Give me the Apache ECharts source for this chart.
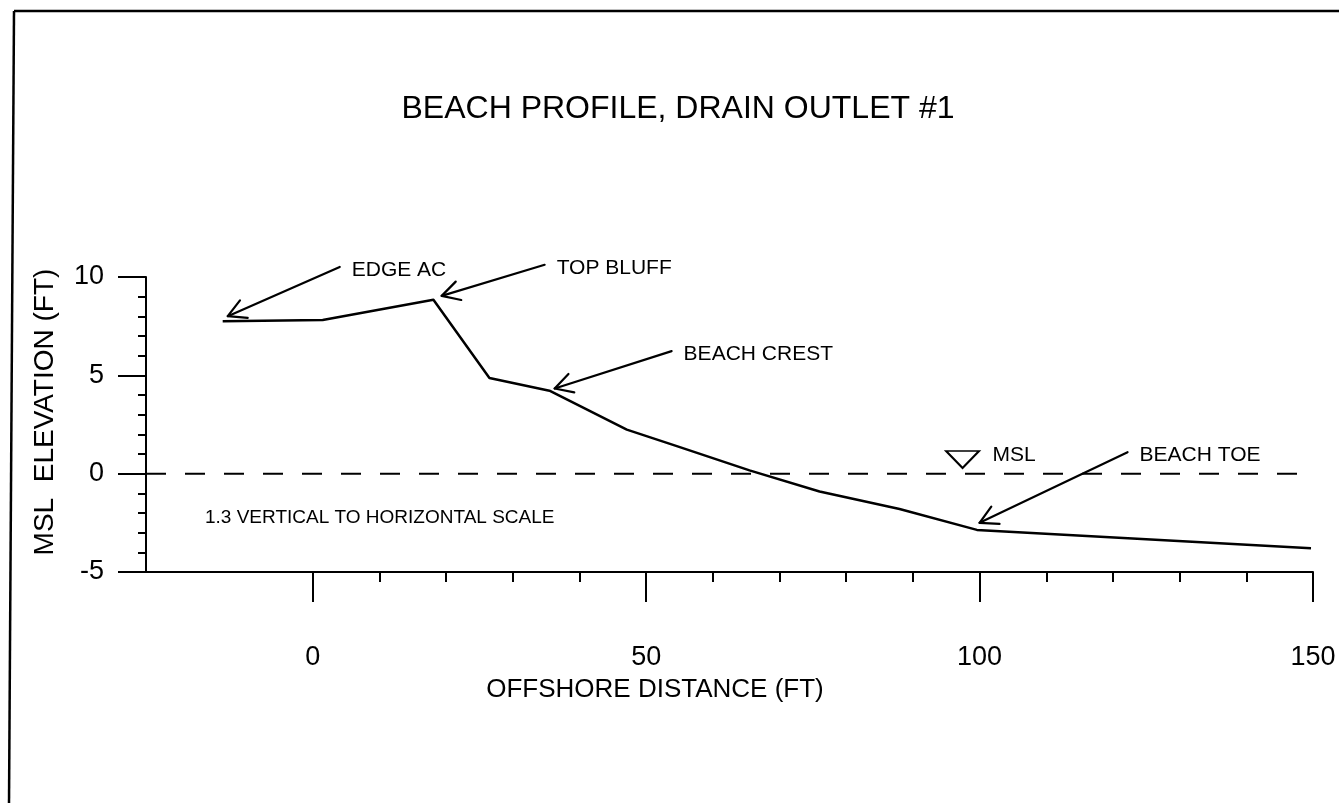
<!DOCTYPE html>
<html>
<head>
<meta charset="utf-8">
<title>Beach Profile, Drain Outlet #1</title>
<script src="https://cdn.jsdelivr.net/npm/echarts@6/dist/echarts.min.js"></script>
<style>
  html, body { margin: 0; padding: 0; background: #ffffff; }
  #chart { width: 1339px; height: 803px; }
</style>
</head>
<body>
<div id="chart"></div>
<script>
// Surveyed beach profile: offshore distance (ft) vs. elevation above MSL (ft)
const distance  = [-13.5, 1.5, 18.1, 26.5, 35.5, 47.1, 54.6, 65.5, 76.0, 88.0, 99.6, 149.7];
const elevation = [7.75, 7.81, 8.84, 4.86, 4.22, 2.24, 1.40, 0.17, -0.91, -1.80, -2.86, -3.79];

// Mean sea level reference line
const mslDistance  = [-25, 148];
const mslElevation = [0, 0];

// Axis ticks
const xMajorTicks = [0, 50, 100, 150];
const xMinorTicks = [10, 20, 30, 40, 60, 70, 80, 90, 110, 120, 130, 140];

// Callouts: label, arrow tail and arrow tip (distance, elevation)
const calloutLabels = ['EDGE AC', 'TOP BLUFF', 'BEACH CREST', 'BEACH TOE'];
const calloutTail   = [[4.05, 10.51], [34.78, 10.62], [53.82, 6.23], [122.19, 1.09]];
const calloutTip    = [[-12.74, 8.01], [19.34, 9.04], [36.28, 4.33], [100.0, -2.50]];

// Still-water-level symbol
const mslMarker = [97.45, 0.72];

const FONT = '"Liberation Sans", Arial, Helvetica, sans-serif';
const INK = '#000000';

const chart = echarts.init(document.getElementById('chart'), null, { renderer: 'canvas' });

const profileData = distance.map((d, i) => [d, elevation[i]]);
const mslData = mslDistance.map((d, i) => [d, mslElevation[i]]);
const calloutData = calloutTail.map((t, i) => [t[0], t[1], calloutTip[i][0], calloutTip[i][1]]);

// Straight leader with an open arrowhead, label placed just past the tail
function renderCallout(params, api) {
  const i = params.dataIndex;
  const tail = api.coord([api.value(0), api.value(1)]);
  const tip = api.coord([api.value(2), api.value(3)]);
  const ang = Math.atan2(tail[1] - tip[1], tail[0] - tip[0]);
  const len = 20, spread = 0.5;
  const b1 = [tip[0] + len * Math.cos(ang - spread), tip[1] + len * Math.sin(ang - spread)];
  const b2 = [tip[0] + len * Math.cos(ang + spread), tip[1] + len * Math.sin(ang + spread)];
  const stroke = { stroke: INK, lineWidth: 2.2, fill: null, lineJoin: 'round', lineCap: 'round' };
  return {
    type: 'group',
    children: [
      { type: 'polyline', shape: { points: [tail, tip] }, style: stroke },
      { type: 'polyline', shape: { points: [b1, tip, b2] }, style: stroke },
      {
        type: 'text',
        style: {
          text: calloutLabels[i],
          x: tail[0] + 12,
          y: tail[1] + 3,
          align: 'left',
          verticalAlign: 'middle',
          font: '21px ' + FONT,
          fill: INK
        }
      }
    ]
  };
}

const option = {
  backgroundColor: '#ffffff',
  animation: false,
  grid: { left: 146, right: 26, top: 277, bottom: 231, containLabel: false },
  xAxis: [
    {
      type: 'value',
      min: -25,
      max: 150,
      position: 'bottom',
      axisLine: { show: true, onZero: false, lineStyle: { color: INK, width: 2 } },
      axisTick: { show: true, customValues: xMajorTicks, length: 30, lineStyle: { color: INK, width: 2 } },
      axisLabel: { show: true, customValues: xMajorTicks, margin: 72, color: INK, fontSize: 27, fontFamily: FONT },
      splitLine: { show: false }
    },
    {
      type: 'value',
      min: -25,
      max: 150,
      position: 'bottom',
      axisLine: { show: false, onZero: false },
      axisTick: { show: true, customValues: xMinorTicks, length: 10, lineStyle: { color: INK, width: 2 } },
      axisLabel: { show: false },
      splitLine: { show: false }
    }
  ],
  yAxis: {
    type: 'value',
    min: -5,
    max: 10,
    interval: 5,
    axisLine: { show: true, onZero: false, lineStyle: { color: INK, width: 2 } },
    axisTick: { show: true, length: 28, lineStyle: { color: INK, width: 2 } },
    minorTick: { show: true, splitNumber: 5, length: 8, lineStyle: { color: INK, width: 2 } },
    axisLabel: { color: INK, fontSize: 27, fontFamily: FONT, margin: 42 },
    splitLine: { show: false },
    minorSplitLine: { show: false }
  },
  graphic: [
    { type: 'line', shape: { x1: 14, y1: 11, x2: 1339, y2: 11 }, style: { stroke: INK, lineWidth: 2.5 }, silent: true },
    { type: 'line', shape: { x1: 14, y1: 11, x2: 9, y2: 803 }, style: { stroke: INK, lineWidth: 2.5 }, silent: true },
    {
      type: 'text', x: 678, y: 109,
      style: { text: 'BEACH PROFILE, DRAIN OUTLET #1', align: 'center', verticalAlign: 'middle', font: '32px ' + FONT, fill: INK }
    },
    {
      type: 'text', x: 45, y: 412, rotation: Math.PI / 2,
      style: { text: 'MSL  ELEVATION (FT)', align: 'center', verticalAlign: 'middle', font: '28px ' + FONT, fill: INK }
    },
    {
      type: 'text', x: 655, y: 690,
      style: { text: 'OFFSHORE DISTANCE (FT)', align: 'center', verticalAlign: 'middle', font: '26px ' + FONT, fill: INK }
    },
    {
      type: 'text', x: 205, y: 518,
      style: { text: '1.3 VERTICAL TO HORIZONTAL SCALE', align: 'left', verticalAlign: 'middle', font: '19px ' + FONT, fill: INK }
    }
  ],
  series: [
    {
      name: 'MSL',
      type: 'line',
      xAxisIndex: 0,
      data: mslData,
      symbol: 'none',
      lineStyle: { color: INK, width: 2, type: [20, 19] },
      z: 2
    },
    {
      name: 'Profile',
      type: 'line',
      xAxisIndex: 0,
      data: profileData,
      symbol: 'none',
      lineStyle: { color: INK, width: 2.5, join: 'round' },
      z: 3
    },
    {
      name: 'Callouts',
      type: 'custom',
      xAxisIndex: 0,
      data: calloutData,
      renderItem: renderCallout,
      clip: false,
      z: 4
    },
    {
      name: 'Water level',
      type: 'scatter',
      xAxisIndex: 0,
      data: [mslMarker],
      symbol: 'triangle',
      symbolRotate: 180,
      symbolSize: [33, 17],
      itemStyle: { color: '#ffffff', borderColor: INK, borderWidth: 2, opacity: 1 },
      label: {
        show: true,
        position: 'right',
        distance: 12,
        offset: [0, -4],
        formatter: 'MSL',
        color: INK,
        opacity: 1,
        fontSize: 21,
        fontFamily: FONT
      },
      z: 5
    }
  ]
};

chart.setOption(option);
</script>
</body>
</html>
